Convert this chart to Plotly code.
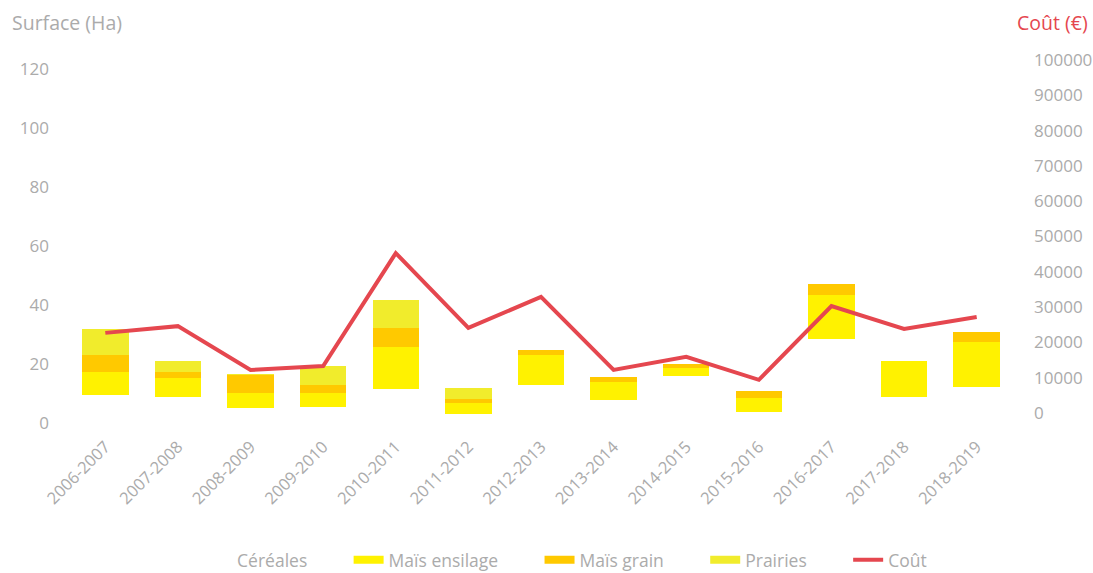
import plotly.graph_objects as go

# Campagnes agricoles
categories = ["2006-2007", "2007-2008", "2008-2009", "2009-2010", "2010-2011",
              "2011-2012", "2012-2013", "2013-2014", "2014-2015", "2015-2016",
              "2016-2017", "2017-2018", "2018-2019"]

# Surfaces (ha) par culture
cereales = [9.5, 8.8, 5.1, 5.4, 11.5, 3.0, 12.9, 7.8, 15.9, 3.7, 28.5, 8.8, 12.2]
mais_ensilage = [7.8, 6.5, 5.1, 4.8, 14.3, 3.8, 10.1, 6.1, 2.7, 4.8, 14.9, 12.2, 15.3]
mais_grain = [5.8, 2.0, 6.1, 2.7, 6.4, 1.3, 1.7, 1.7, 1.4, 2.3, 3.7, 0.0, 3.4]
prairies = [8.9, 3.7, 0.3, 6.4, 9.5, 3.8, 0.0, 0.0, 0.0, 0.0, 0.0, 0.0, 0.0]

# Coût total (€)
cout = [22700, 24600, 12200, 13300, 45300, 24100, 32900, 12200, 15900, 9400,
        30300, 23800, 27200]

FONT = "Open Sans"
GREY = "#ABABAB"
RED = "#E5474F"
PAD = "\u00a0" * 8  # extra room after each legend label

series = [
    ("Céréales", cereales, "rgba(255,255,255,0)"),
    ("Maïs ensilage", mais_ensilage, "#FFF200"),
    ("Maïs grain", mais_grain, "#FFC900"),
    ("Prairies", prairies, "#F1EC2C"),
]

fig = go.Figure()
for name, values, color in series:
    fig.add_bar(x=categories, y=values, name=name, showlegend=False,
                marker=dict(color=color, line=dict(width=0)))

# Legend keys drawn as wide flat swatches
for name, _, color in series:
    fig.add_scatter(x=[None], y=[None], name=name + PAD, mode="lines",
                    line=dict(color=color, width=8), hoverinfo="skip")

fig.add_scatter(x=categories, y=cout, name="Coût", yaxis="y2", mode="lines",
                line=dict(color=RED, width=4))

fig.update_layout(
    width=1093, height=573,
    margin=dict(l=69, r=80, t=58, b=150, autoexpand=False),
    paper_bgcolor="white", plot_bgcolor="white",
    barmode="stack", bargap=0.36,
    font=dict(family=FONT, size=17, color=GREY),
    showlegend=True,
    legend=dict(orientation="h", x=0.525, xanchor="center", y=-0.375,
                yanchor="middle", font=dict(size=17.5, color=GREY),
                traceorder="normal"),
    xaxis=dict(tickangle=-45, showgrid=False, showline=False, zeroline=False,
               ticks="", ticklabelstandoff=10,
               tickfont=dict(size=16.5, color=GREY),
               range=[-0.5, 12.5]),
    yaxis=dict(range=[0, 123.7], dtick=20, showgrid=False, zeroline=False,
               showline=False, ticks="", ticklabelstandoff=19,
               tickfont=dict(size=17, color=GREY)),
    yaxis2=dict(range=[-2833, 100567], tickvals=list(range(0, 100001, 10000)),
                tickformat="d",
                overlaying="y", side="right", showgrid=False, zeroline=False,
                showline=False, ticks="", ticklabelstandoff=20,
                tickfont=dict(size=17, color=GREY)),
    annotations=[
        dict(text="Surface (Ha)", xref="paper", yref="paper",
             x=-0.0625, y=1.0986, xanchor="left", yanchor="middle",
             showarrow=False, font=dict(size=19.5, color=GREY)),
        dict(text="Coût (€)", xref="paper", yref="paper",
             x=1.0816, y=1.0986, xanchor="right", yanchor="middle",
             showarrow=False, font=dict(size=19.5, color=RED)),
    ],
)

fig.write_html("out.html")
